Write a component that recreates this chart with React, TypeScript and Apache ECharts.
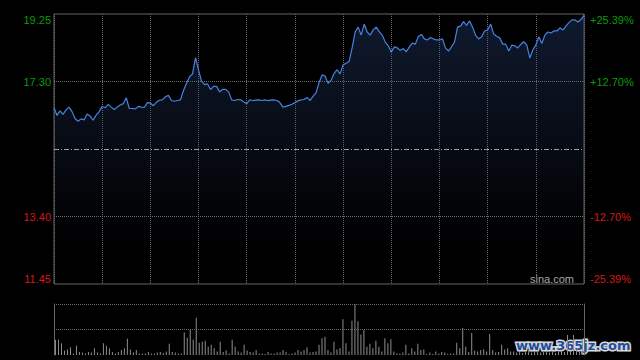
import React, { useEffect, useRef } from 'react';
import * as echarts from 'echarts';

// Price per time step
const prices = [
  16.55, 16.32, 16.45, 16.35, 16.48, 16.56, 16.43, 16.23, 16.15, 16.22,
  16.19, 16.36, 16.30, 16.18, 16.33, 16.43, 16.58, 16.54, 16.64, 16.56,
  16.49, 16.56, 16.62, 16.66, 16.83, 16.52, 16.52, 16.51, 16.58, 16.56,
  16.55, 16.69, 16.68, 16.60, 16.70, 16.76, 16.77, 16.86, 16.90, 16.75,
  16.73, 16.75, 16.77, 17.04, 17.25, 17.43, 17.52, 17.99, 17.63, 17.31,
  17.21, 17.23, 17.07, 17.16, 17.16, 17.00, 17.07, 17.07, 17.00, 16.77,
  16.75, 16.78, 16.77, 16.71, 16.66, 16.77, 16.75, 16.76, 16.77, 16.75,
  16.77, 16.75, 16.76, 16.77, 16.75, 16.69, 16.56, 16.58, 16.61, 16.64,
  16.69, 16.74, 16.77, 16.78, 16.84, 16.75, 16.87, 16.97, 17.26, 17.49,
  17.46, 17.25, 17.33, 17.53, 17.64, 17.52, 17.78, 17.83, 17.88, 18.27,
  18.73, 18.87, 18.64, 18.96, 18.73, 18.64, 18.79, 18.87, 18.74, 18.64,
  18.44, 18.33, 18.15, 18.30, 18.27, 18.20, 18.25, 18.16, 18.30, 18.41,
  18.38, 18.60, 18.66, 18.53, 18.50, 18.57, 18.53, 18.50, 18.50, 18.53,
  18.27, 18.18, 18.30, 18.44, 18.87, 18.90, 19.03, 18.92, 19.05, 18.87,
  18.64, 18.53, 18.59, 18.76, 18.79, 18.96, 18.67, 18.61, 18.56, 18.38,
  18.38, 18.18, 18.35, 18.33, 18.27, 18.37, 18.45, 18.35, 17.98, 18.21,
  18.35, 18.59, 18.40, 18.64, 18.73, 18.70, 18.76, 18.76, 18.85, 18.79,
  18.90, 19.00, 19.08, 19.08, 19.02, 19.09, 19.21,
];

// Volume per time step (relative units, axis top = 100)
const volumes = [
  30, 30, 23, 9, 11, 15, 3, 18, 6, 5,
  3, 6, 5, 13, 5, 3, 23, 18, 13, 6,
  3, 6, 10, 13, 32, 11, 5, 10, 3, 3,
  3, 6, 3, 3, 5, 6, 4, 7, 22, 6,
  5, 3, 3, 44, 34, 49, 30, 73, 24, 26,
  28, 16, 20, 13, 7, 26, 6, 9, 3, 30,
  16, 7, 5, 20, 9, 6, 5, 10, 3, 3,
  2, 6, 3, 3, 5, 5, 10, 6, 2, 3,
  5, 10, 7, 10, 15, 5, 6, 7, 20, 33,
  36, 10, 5, 26, 11, 13, 70, 23, 7, 67,
  100, 66, 40, 49, 16, 22, 13, 28, 16, 7,
  33, 23, 31, 7, 3, 3, 5, 20, 3, 13,
  7, 22, 10, 11, 2, 5, 2, 7, 3, 6,
  5, 2, 3, 3, 24, 13, 53, 16, 6, 43,
  9, 7, 10, 11, 7, 41, 10, 5, 6, 20,
  11, 13, 7, 7, 5, 8, 4, 6, 10, 5,
  7, 9, 5, 6, 8, 5, 6, 4, 7, 9,
  6, 39, 8, 39, 10, 6, 30,
];

const categories = prices.map((_, i) => String(i));

const priceMin = 11.45;
const priceMax = 19.25;
const priceStep = 1.95;
const prevClose = 15.35;
const leftTickLabels = ['11.45', '13.40', '', '17.30', '19.25'];

const pctMin = -25.39;
const pctMax = 25.39;
const pctStep = 12.695;
const rightTickLabels = ['-25.39%', '-12.70%', '', '+12.70%', '+25.39%'];

const priceGridLevels = [13.4, 17.3];
const volumeGridLevels = [50, 100];

const GREEN = '#0c9a0c';
const RED = '#d41818';
const GRID_GRAY = '#6a6a6a';

export default function App() {
  const ref = useRef<HTMLDivElement>(null);

  useEffect(() => {
    if (!ref.current) return;
    const chart = echarts.init(ref.current, null, { renderer: 'svg' });
    const labelFont = { fontSize: 11, fontFamily: 'Liberation Sans, Arial, sans-serif' };

    chart.setOption({
      animation: false,
      backgroundColor: '#000000',
      grid: [
        { left: 54, right: 56, top: 14, height: 270, show: true, borderColor: '#666666', borderWidth: 1, backgroundColor: 'transparent' },
        { left: 54, right: 56, top: 304, height: 51, show: false },
      ],
      xAxis: [
        {
          type: 'category', gridIndex: 0, data: categories, boundaryGap: false,
          axisLine: { show: false }, axisTick: { show: false }, axisLabel: { show: false },
          splitLine: { show: true, interval: 15, lineStyle: { color: GRID_GRAY, width: 1, type: [1, 1] } },
        },
        {
          type: 'category', gridIndex: 1, data: categories, boundaryGap: true,
          axisLine: { show: false }, axisTick: { show: false }, axisLabel: { show: false },
          splitLine: { show: false },
        },
      ],
      yAxis: [
        {
          type: 'value', gridIndex: 0, position: 'left', min: priceMin, max: priceMax, interval: priceStep,
          axisLine: { show: false }, axisTick: { show: false }, splitLine: { show: false },
          axisLabel: {
            ...labelFont, margin: 3,
            verticalAlignMinLabel: 'bottom', verticalAlignMaxLabel: 'top',
            formatter: (v: number) => leftTickLabels[Math.round((v - priceMin) / priceStep)] ?? '',
            color: (v: any) => (Number(v) > prevClose ? GREEN : RED),
          },
        },
        {
          type: 'value', gridIndex: 0, position: 'right', min: pctMin, max: pctMax, interval: pctStep,
          axisLine: { show: false }, axisTick: { show: false }, splitLine: { show: false },
          axisLabel: {
            ...labelFont, margin: 6,
            verticalAlignMinLabel: 'bottom', verticalAlignMaxLabel: 'top',
            formatter: (v: number) => rightTickLabels[Math.round((v - pctMin) / pctStep)] ?? '',
            color: (v: any) => (Number(v) > 0 ? GREEN : RED),
          },
        },
        {
          type: 'value', gridIndex: 1, position: 'left', min: 0, max: 100, interval: 50,
          axisLine: { show: true, lineStyle: { color: '#666666', width: 1 } },
          axisTick: { show: false }, axisLabel: { show: false }, splitLine: { show: false },
        },
        {
          type: 'value', gridIndex: 1, position: 'right', min: 0, max: 100, interval: 50,
          axisLine: { show: true, lineStyle: { color: '#666666', width: 1 } },
          axisTick: { show: false }, axisLabel: { show: false }, splitLine: { show: false },
        },
      ],
      series: [
        {
          type: 'line', xAxisIndex: 0, yAxisIndex: 0, data: prices,
          symbol: 'none', smooth: false,
          lineStyle: { color: '#4682e0', width: 1.2 },
          areaStyle: {
            color: new echarts.graphic.LinearGradient(0, 0, 0, 1, [
              { offset: 0, color: 'rgba(45,75,135,0.5)' },
              { offset: 0.55, color: 'rgba(35,55,100,0.24)' },
              { offset: 1, color: 'rgba(0,0,0,0)' },
            ]),
          },
          markLine: {
            silent: true, symbol: 'none', label: { show: false },
            data: [
              ...priceGridLevels.map((v) => ({ yAxis: v, lineStyle: { color: GRID_GRAY, width: 1, type: [1, 1] } })),
              { yAxis: prevClose, lineStyle: { color: '#9aa2ae', width: 1, type: [5, 2, 1, 2] } },
            ],
          },
        },
        {
          type: 'bar', xAxisIndex: 1, yAxisIndex: 2, data: volumes,
          barWidth: 1, itemStyle: { color: '#8e8e8e' },
          markLine: {
            silent: true, symbol: 'none', label: { show: false },
            data: volumeGridLevels.map((v) => ({ yAxis: v, lineStyle: { color: GRID_GRAY, width: 1, type: [1, 1] } })),
          },
        },
      ],
      graphic: [
        {
          type: 'text', right: 66, top: 273,
          style: { text: 'sina.com', fill: '#a8a8a8', fontSize: 11, fontFamily: 'Liberation Sans, Arial, sans-serif' },
          silent: true,
        },
        {
          type: 'text', right: 8, top: 337,
          style: {
            text: 'www.365jz.com', fill: '#1f4c9e', stroke: '#d8d8d8', lineWidth: 3,
            fontSize: 13, fontWeight: 'bold', fontFamily: 'DejaVu Sans, sans-serif',
          },
          silent: true,
        },
      ],
    });

    return () => chart.dispose();
  }, []);

  return (
    <div
      ref={ref}
      style={{ position: 'absolute', left: 0, top: 0, width: 640, height: 360, background: '#000' }}
    />
  );
}
